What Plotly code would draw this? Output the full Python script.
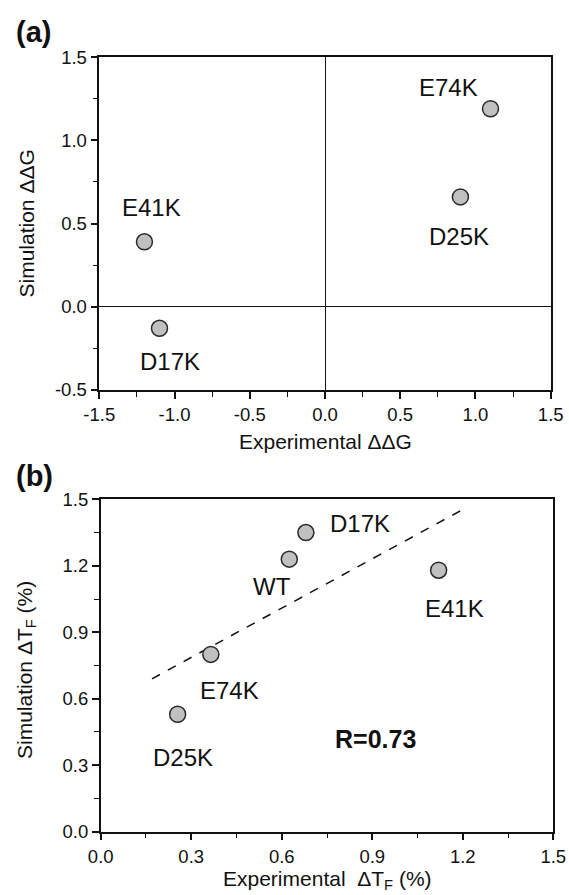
import plotly.graph_objects as go

# ---------------- data: panel (a) ----------------
a_mutants = ["E74K", "D25K", "E41K", "D17K"]
a_exp_ddg = [1.10, 0.90, -1.20, -1.10]
a_sim_ddg = [1.19, 0.66, 0.39, -0.13]
a_xticks = [-1.5, -1.0, -0.5, 0.0, 0.5, 1.0, 1.5]
a_yticks = [-0.5, 0.0, 0.5, 1.0, 1.5]

# ---------------- data: panel (b) ----------------
b_mutants = ["D17K", "WT", "E41K", "E74K", "D25K"]
b_exp_dtf = [0.68, 0.625, 1.12, 0.365, 0.255]
b_sim_dtf = [1.35, 1.23, 1.18, 0.80, 0.53]
b_fit_x = [0.17, 1.215]
b_fit_y = [0.69, 1.465]
b_r_text = "R=0.73"
b_r_pos = (0.91, 0.417)
b_ticks = [0.0, 0.3, 0.6, 0.9, 1.2, 1.5]

# ---------------- label offsets (pixels) ----------------
a_label_shift = {"E74K": (-42, 21), "D25K": (-1, -40), "E41K": (7, 34), "D17K": (11, -33)}
b_label_shift = {"D17K": (54, 9), "WT": (-17, -27), "E41K": (16, -38),
                 "E74K": (19, -36), "D25K": (5, -43)}

FONT = "Liberation Sans, Arial, Helvetica, sans-serif"
INK = "#111111"
W, H = 569, 895

fig = go.Figure()

marker = dict(size=16, color="#c0c0c0", line=dict(color="#2a2a2a", width=1.5))

fig.add_trace(go.Scatter(x=a_exp_ddg, y=a_sim_ddg, mode="markers", marker=marker,
                         xaxis="x", yaxis="y", showlegend=False, hoverinfo="skip"))
fig.add_trace(go.Scatter(x=b_fit_x, y=b_fit_y, mode="lines",
                         line=dict(color=INK, width=1.5, dash="dash"),
                         xaxis="x2", yaxis="y2", showlegend=False, hoverinfo="skip"))
fig.add_trace(go.Scatter(x=b_exp_dtf, y=b_sim_dtf, mode="markers", marker=marker,
                         xaxis="x2", yaxis="y2", showlegend=False, hoverinfo="skip"))

label_font = dict(size=24, color=INK, family=FONT)
annotations = []
for name, xv, yv in zip(a_mutants, a_exp_ddg, a_sim_ddg):
    dx, dy = a_label_shift[name]
    annotations.append(dict(x=xv, y=yv, xref="x", yref="y", text=name, showarrow=False,
                            xanchor="center", yanchor="middle",
                            xshift=dx, yshift=dy, font=label_font))
for name, xv, yv in zip(b_mutants, b_exp_dtf, b_sim_dtf):
    dx, dy = b_label_shift[name]
    annotations.append(dict(x=xv, y=yv, xref="x2", yref="y2", text=name, showarrow=False,
                            xanchor="center", yanchor="middle",
                            xshift=dx, yshift=dy, font=label_font))
annotations.append(dict(x=b_r_pos[0], y=b_r_pos[1], xref="x2", yref="y2", text="<b>" + b_r_text + "</b>",
                        showarrow=False, xanchor="center", yanchor="middle",
                        font=dict(size=25, color=INK, family=FONT)))

# plot-area geometry (fractions of the page)
ax_a = [99.3 / W, 550.7 / W]
ay_a = [1 - 389.8 / H, 1 - 57.2 / H]
ax_b = [100.7 / W, 553.3 / W]
ay_b = [1 - 831.7 / H, 1 - 499.3 / H]

title_font = dict(size=21, color=INK, family=FONT)
common = dict(xref="paper", yref="paper", showarrow=False, xanchor="center", yanchor="middle")
annotations += [
    dict(x=(ax_a[0] + ax_a[1]) / 2, y=1 - 441 / H,
         text="Experimental \u0394\u0394G", font=title_font, **common),
    dict(x=26 / W, y=(ay_a[0] + ay_a[1]) / 2,
         text="Simulation \u0394\u0394G", textangle=-90, font=title_font, **common),
    dict(x=(ax_b[0] + ax_b[1]) / 2, y=1 - 880 / H,
         text="Experimental\u00a0 \u0394T<sub>F</sub> (%)", font=title_font, **common),
    dict(x=26 / W, y=1 - 670 / H,
         text="Simulation \u0394T<sub>F</sub> (%)", textangle=-90, font=title_font, **common),
    dict(x=33 / W, y=1 - 32.5 / H, text="<b>(a)</b>",
         font=dict(size=29, color=INK, family=FONT), **common),
    dict(x=34 / W, y=1 - 476 / H, text="<b>(b)</b>",
         font=dict(size=29, color=INK, family=FONT), **common),
]

tick_font = dict(size=18.5, color=INK, family=FONT)

def axis(domain, anchor, rng, ticks, minor_dtick, zeroline):
    return dict(domain=domain, anchor=anchor, range=rng, tickvals=ticks,
                ticktext=["{:.1f}".format(t) for t in ticks],
                ticks="outside", ticklen=7, tickwidth=1.5, tickcolor=INK,
                showline=True, linecolor=INK, linewidth=1.5, mirror=True,
                showgrid=False, zeroline=zeroline, zerolinecolor=INK, zerolinewidth=1.3,
                tickfont=tick_font, fixedrange=True, automargin=False,
                minor=dict(dtick=minor_dtick, tick0=0, ticks="outside", ticklen=5,
                           tickwidth=1.3, tickcolor=INK, showgrid=False))

fig.update_layout(
    template="none",
    width=W, height=H, margin=dict(l=0, r=0, t=0, b=0, pad=0), autosize=False,
    paper_bgcolor="white", plot_bgcolor="white",
    xaxis=axis(ax_a, "y", [-1.5, 1.5], a_xticks, 0.25, True),
    yaxis=axis(ay_a, "x", [-0.5, 1.5], a_yticks, 0.25, True),
    xaxis2=axis(ax_b, "y2", [0, 1.5], b_ticks, 0.15, False),
    yaxis2=axis(ay_b, "x2", [0, 1.5], b_ticks, 0.15, False),
    annotations=annotations,
)

fig.write_html("out.html")
